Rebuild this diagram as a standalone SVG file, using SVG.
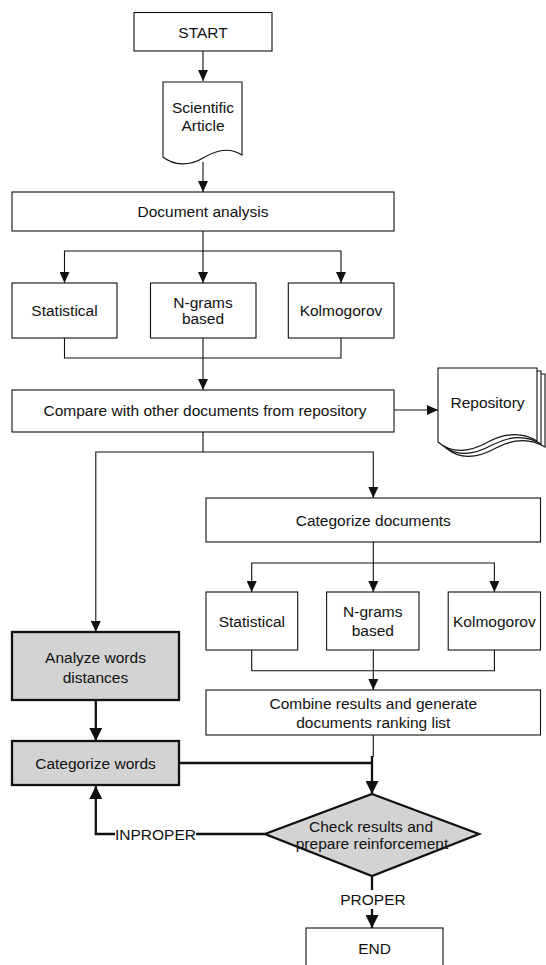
<svg xmlns="http://www.w3.org/2000/svg" width="546" height="965" viewBox="0 0 546 965">
<defs>
<style>
text{font-family:"Liberation Sans",Arial,sans-serif;font-size:15.5px;fill:#111;text-anchor:middle;dominant-baseline:central}
.box{fill:#fff;stroke:#111;stroke-width:1.1}
.gbox{fill:#d3d3d3;stroke:#111;stroke-width:2.3}
.ln{fill:none;stroke:#111;stroke-width:1.1}
.tk{fill:none;stroke:#111;stroke-width:2.3}
.lbl{fill:#111}
</style>
<marker id="a" viewBox="0 0 11 10" refX="11" refY="5" markerWidth="11" markerHeight="10" markerUnits="userSpaceOnUse" orient="auto"><path d="M0,0 L11,5 L0,10 z" fill="#111"/></marker>
<marker id="b" viewBox="0 0 13 13" refX="13" refY="6.5" markerWidth="13" markerHeight="13" markerUnits="userSpaceOnUse" orient="auto"><path d="M0,0 L13,6.5 L0,13 z" fill="#111"/></marker>
</defs>
<rect width="546" height="965" fill="#fff"/>

<g id="connectors">
<path class="ln" d="M203,51 V81" marker-end="url(#a)"/>
<path class="ln" d="M203,162 V192" marker-end="url(#a)"/>
<path class="ln" d="M203,231 V283" marker-end="url(#a)"/>
<path class="ln" d="M203,251 H64.5 V283" marker-end="url(#a)"/>
<path class="ln" d="M203,251 H341 V283" marker-end="url(#a)"/>
<path class="ln" d="M64.5,338 V358 H341 V338"/>
<path class="ln" d="M203,338 V390" marker-end="url(#a)"/>
<path class="ln" d="M394,410 H438" marker-end="url(#a)"/>
<path class="ln" d="M203,432 V452 H95.8 V632" marker-end="url(#a)"/>
<path class="ln" d="M203,452 H373.3 V498" marker-end="url(#a)"/>
<path class="ln" d="M373.3,542 V592" marker-end="url(#a)"/>
<path class="ln" d="M373.3,563 H251.7 V592" marker-end="url(#a)"/>
<path class="ln" d="M373.3,563 H494.4 V592" marker-end="url(#a)"/>
<path class="ln" d="M251.7,650 V670.7 H494.4 V650"/>
<path class="ln" d="M373.3,650 V690" marker-end="url(#a)"/>
<path class="ln" d="M373.3,735 V757"/>
<path class="tk" d="M95.8,700 V741" marker-end="url(#b)"/>
<path class="tk" d="M179,763 H372"/>
<path class="tk" d="M372,756 V794" marker-end="url(#b)"/>
<path class="tk" d="M265,834 H196"/>
<path class="tk" d="M115,834 H95.8 V786" marker-end="url(#b)"/>
<path class="tk" d="M372,876 V890"/>
<path class="tk" d="M372,909 V928" marker-end="url(#b)"/>
<text x="155.5" y="834">INPROPER</text>
<text x="373" y="899.5">PROPER</text>
</g>

<g id="start"><rect class="box" x="134" y="12.5" width="138" height="38.5"/><text x="203" y="32">START</text></g>

<g id="article">
<path class="box" d="M163,82 H242 V155 C230,147 216,150 203,158 C190,166 174,166 163,157 Z"/>
<text x="203" y="107">Scientific</text><text x="203" y="125">Article</text>
</g>

<g id="docanalysis"><rect class="box" x="12" y="192" width="382" height="39"/><text x="203" y="211.5">Document analysis</text></g>

<g id="stat1"><rect class="box" x="12" y="283" width="105" height="55"/><text x="64.5" y="310">Statistical</text></g>
<g id="ngram1"><rect class="box" x="150.5" y="283" width="105.5" height="55"/><text x="203" y="302">N-grams</text><text x="203" y="318.5">based</text></g>
<g id="kolm1"><rect class="box" x="288.3" y="283" width="105.7" height="55"/><text x="341" y="310">Kolmogorov</text></g>

<g id="compare"><rect class="box" x="12" y="390" width="382" height="42"/><text x="205" y="410.5">Compare with other documents from repository</text></g>

<g id="repository">
<path class="box" d="M446,374 H545 V447 C530,438 513,439 496,448 C478,458 460,460 446,448 Z"/>
<path class="box" d="M442,371 H541 V444 C526,435 509,436 492,445 C474,455 456,457 442,445 Z"/>
<path class="box" d="M438,368 H537 V441 C522,432 505,433 488,442 C470,452 452,454 438,442 Z"/>
<text x="487.5" y="402">Repository</text>
</g>

<g id="catdocs"><rect class="box" x="206" y="498" width="334.5" height="44"/><text x="373.3" y="520">Categorize documents</text></g>

<g id="stat2"><rect class="box" x="206" y="592" width="91.7" height="58"/><text x="251.8" y="621">Statistical</text></g>
<g id="ngram2"><rect class="box" x="326.6" y="592" width="92.4" height="58"/><text x="372.8" y="611">N-grams</text><text x="372.8" y="630">based</text></g>
<g id="kolm2"><rect class="box" x="448.2" y="592" width="92.3" height="58"/><text x="494.4" y="621">Kolmogorov</text></g>

<g id="combine"><rect class="box" x="206" y="690" width="334.5" height="45"/><text x="373.3" y="703.5">Combine results and generate</text><text x="373.3" y="722">documents ranking list</text></g>

<g id="analyze"><rect class="gbox" x="12" y="632" width="167" height="68"/><text x="95.5" y="657">Analyze words</text><text x="95.5" y="677">distances</text></g>

<g id="catwords"><rect class="gbox" x="12" y="741" width="167" height="44"/><text x="95.5" y="763">Categorize words</text></g>

<g id="check"><path class="gbox" d="M372,794 L479,834 L372,876 L265,834 Z"/><text x="371" y="826.5">Check results and</text><text x="372" y="843.5">prepare reinforcement</text></g>

<g id="end"><rect class="box" x="306" y="928" width="137" height="50"/><text x="374.5" y="948.5">END</text></g>
</svg>
